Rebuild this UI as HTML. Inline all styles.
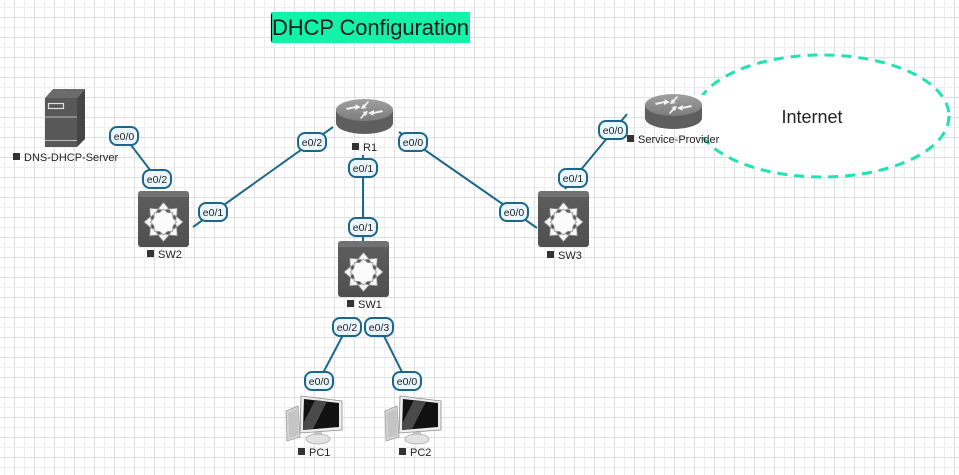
<!DOCTYPE html>
<html><head><meta charset="utf-8"><style>
html,body{margin:0;padding:0;background:#fff;}
svg{display:block;}
text{font-family:"Liberation Sans",sans-serif;}
</style></head><body>
<svg width="959" height="475" viewBox="0 0 959 475" xmlns="http://www.w3.org/2000/svg">
<defs>
<pattern id="grid" x="4" y="7" width="20" height="20" patternUnits="userSpaceOnUse">
<path d="M0 0V20M0 0H20" stroke="#ededed" stroke-width="1" fill="none" transform="translate(0.5,0.5)"/>
<path d="M10 0V20M0 10H20" stroke="#dfdfdf" stroke-width="1" fill="none" transform="translate(0.5,0.5)"/>
</pattern>
<linearGradient id="swg" x1="0" y1="0" x2="0" y2="1">
<stop offset="0" stop-color="#6e6e6e"/><stop offset="0.12" stop-color="#5c5c5c"/><stop offset="1" stop-color="#4f4f4f"/>
</linearGradient>
<linearGradient id="rtop" x1="0" y1="0" x2="0" y2="1">
<stop offset="0" stop-color="#a0a0a0"/><stop offset="1" stop-color="#7c7c7c"/>
</linearGradient>
<polygon id="arr" points="0,-19.5 6,-12.5 2.5,-12.5 2.5,-8 -2.5,-8 -2.5,-12.5 -6,-12.5" fill="#f6f6f6" stroke="#8e8e8e" stroke-width="0.8"/>
<g id="switch">
<rect x="0" y="0" width="51" height="56" rx="3" fill="url(#swg)"/>
<rect x="0" y="0" width="51" height="6" rx="3" fill="#727272"/>
<g transform="translate(25.5,31)">
<use href="#arr"/>
<use href="#arr" transform="rotate(45)"/>
<use href="#arr" transform="rotate(90)"/>
<use href="#arr" transform="rotate(135)"/>
<use href="#arr" transform="rotate(180)"/>
<use href="#arr" transform="rotate(225)"/>
<use href="#arr" transform="rotate(270)"/>
<use href="#arr" transform="rotate(315)"/>
<polygon points="13,0 9.5,3.9 9.2,9.2 3.9,9.5 0,13 -3.9,9.5 -9.2,9.2 -9.5,3.9 -13,0 -9.5,-3.9 -9.2,-9.2 -3.9,-9.5 0,-13 3.9,-9.5 9.2,-9.2 9.5,-3.9" fill="#f6f6f6" stroke="#8e8e8e" stroke-width="0.8"/>
<circle r="10" fill="#fbfbfb"/>
</g>
</g>
<g id="router">
<path d="M0 11 V24 A28.5 11 0 0 0 57 24 V11 Z" fill="#5e5e5e"/>
<ellipse cx="28.5" cy="11" rx="28.5" ry="11" fill="url(#rtop)"/>
<g fill="#f2f2f2">
<polygon points="10,9 20,7 19,5 25,8 19,11 19,9 11,11"/>
<polygon points="47,13 37,15 38,17 32,14 38,11 38,13 46,11"/>
<polygon points="33,3 29,8 31,9 25,10 27,5 28,6 32,2"/>
<polygon points="24,19 28,14 26,13 32,12 30,17 29,16 25,20"/>
</g>
</g>
<g id="pc">
<polygon points="1,15 13,10 15,41 2,45" fill="#d6d6d6" stroke="#9c9c9c" stroke-width="0.8"/>
<polygon points="3,17 12,13 13,39 4,42" fill="#c4c4c4"/>
<rect x="29" y="36" width="8" height="6" fill="#c8c8c8"/>
<ellipse cx="33" cy="43" rx="12" ry="5" fill="#e2e2e2" stroke="#a8a8a8" stroke-width="0.8"/>
<polygon points="16,0 57,5 57,34 15,37" fill="#ececec" stroke="#8c8c8c" stroke-width="0.8"/>
<polygon points="19,3 54,7 54,31 18,34" fill="#111"/>
<polygon points="30,4 42,5.5 28,33 18,34 18,28" fill="#4a4a4a"/>
</g>
</defs>

<rect width="959" height="475" fill="#fff"/>
<rect width="959" height="475" fill="url(#grid)"/>

<!-- Title -->
<rect x="271" y="12" width="199" height="31" fill="#12f2a8"/>
<line x1="271.5" y1="14" x2="271.5" y2="41" stroke="#000" stroke-width="1.2"/>
<text x="272" y="35" font-size="22" fill="#1a1a1a" textLength="197">DHCP Configuration</text>

<!-- Internet cloud -->
<ellipse cx="822" cy="116" rx="127" ry="61" fill="#fff" stroke="#1fe3b3" stroke-width="3" stroke-dasharray="10 7"/>
<text x="812" y="123" font-size="18" fill="#222" text-anchor="middle">Internet</text>
<rect x="686" y="95" width="18" height="42" fill="#fff"/>

<!-- Links -->
<g stroke="#1e6889" stroke-width="2" fill="none">
<line x1="124" y1="136" x2="157" y2="179"/>
<line x1="193" y1="227" x2="333" y2="127"/>
<line x1="399" y1="132" x2="537" y2="228"/>
<line x1="363" y1="155" x2="363" y2="241"/>
<line x1="565" y1="189" x2="627" y2="114"/>
<line x1="352" y1="318" x2="314" y2="390"/>
<line x1="375" y1="318" x2="411" y2="390"/>
</g>

<!-- Server -->
<polygon points="45,98 53,89 85,89 77,98" fill="#6b6b6b"/>
<polygon points="77,98 85,89 85,139 77,147" fill="#454545"/>
<rect x="45" y="98" width="32" height="49" fill="#585858"/>
<rect x="48.5" y="103.5" width="15" height="5" fill="none" stroke="#e0e0e0" stroke-width="1.2"/>
<line x1="45" y1="117" x2="77" y2="117" stroke="#bdbdbd" stroke-width="1"/>
<line x1="45" y1="140.5" x2="77" y2="140.5" stroke="#bdbdbd" stroke-width="1"/>

<!-- Devices -->
<use href="#router" x="336" y="99"/>
<use href="#router" x="645" y="94"/>
<use href="#switch" x="138" y="191"/>
<use href="#switch" x="338" y="241"/>
<use href="#switch" x="538" y="191"/>
<use href="#pc" x="285" y="396"/>
<use href="#pc" x="384" y="396"/>

<!-- Device labels -->
<g font-size="11" fill="#222">
<rect x="13" y="153" width="7" height="7" fill="#333"/><text x="24" y="161">DNS-DHCP-Server</text>
<rect x="352" y="143" width="7" height="7" fill="#333"/><text x="363" y="151">R1</text>
<rect x="147" y="250" width="7" height="7" fill="#333"/><text x="158" y="258">SW2</text>
<rect x="347" y="300" width="7" height="7" fill="#333"/><text x="358" y="308">SW1</text>
<rect x="547" y="251" width="7" height="7" fill="#333"/><text x="558" y="259">SW3</text>
<rect x="627" y="135" width="7" height="7" fill="#333"/><text x="638" y="143">Service-Provider</text>
<rect x="298" y="448" width="7" height="7" fill="#333"/><text x="309" y="456">PC1</text>
<rect x="399" y="448" width="7" height="7" fill="#333"/><text x="410" y="456">PC2</text>
</g>

<!-- Interface labels -->
<g font-size="10.5" fill="#222" text-anchor="middle">
<g><rect x="110" y="127" width="28" height="18" rx="7" fill="#eaf6fc" stroke="#1c6689" stroke-width="2"/><text x="124" y="140">e0/0</text></g>
<g><rect x="143" y="170" width="28" height="18" rx="7" fill="#eaf6fc" stroke="#1c6689" stroke-width="2"/><text x="157" y="183">e0/2</text></g>
<g><rect x="199" y="203" width="28" height="18" rx="7" fill="#eaf6fc" stroke="#1c6689" stroke-width="2"/><text x="213" y="216">e0/1</text></g>
<g><rect x="298" y="133" width="28" height="18" rx="7" fill="#eaf6fc" stroke="#1c6689" stroke-width="2"/><text x="312" y="146">e0/2</text></g>
<g><rect x="399" y="133" width="28" height="18" rx="7" fill="#eaf6fc" stroke="#1c6689" stroke-width="2"/><text x="413" y="146">e0/0</text></g>
<g><rect x="349" y="159" width="28" height="18" rx="7" fill="#eaf6fc" stroke="#1c6689" stroke-width="2"/><text x="363" y="172">e0/1</text></g>
<g><rect x="349" y="218" width="28" height="18" rx="7" fill="#eaf6fc" stroke="#1c6689" stroke-width="2"/><text x="363" y="231">e0/1</text></g>
<g><rect x="500" y="203" width="28" height="18" rx="7" fill="#eaf6fc" stroke="#1c6689" stroke-width="2"/><text x="514" y="216">e0/0</text></g>
<g><rect x="559" y="169" width="28" height="18" rx="7" fill="#eaf6fc" stroke="#1c6689" stroke-width="2"/><text x="573" y="182">e0/1</text></g>
<g><rect x="599" y="121" width="28" height="18" rx="7" fill="#eaf6fc" stroke="#1c6689" stroke-width="2"/><text x="613" y="134">e0/0</text></g>
<g><rect x="333" y="318" width="28" height="18" rx="7" fill="#eaf6fc" stroke="#1c6689" stroke-width="2"/><text x="347" y="331">e0/2</text></g>
<g><rect x="365" y="318" width="28" height="18" rx="7" fill="#eaf6fc" stroke="#1c6689" stroke-width="2"/><text x="379" y="331">e0/3</text></g>
<g><rect x="305" y="372" width="28" height="18" rx="7" fill="#eaf6fc" stroke="#1c6689" stroke-width="2"/><text x="319" y="385">e0/0</text></g>
<g><rect x="393" y="372" width="28" height="18" rx="7" fill="#eaf6fc" stroke="#1c6689" stroke-width="2"/><text x="407" y="385">e0/0</text></g>
</g>
</svg>
</body></html>
